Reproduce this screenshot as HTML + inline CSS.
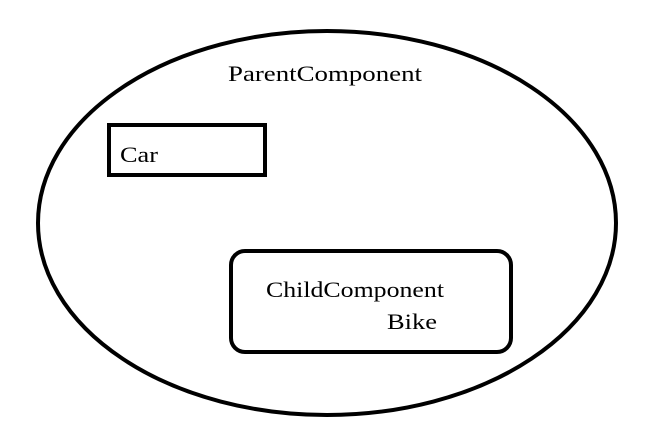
<!DOCTYPE html>
<html><head><style>
html,body{margin:0;padding:0;background:#fff;}
svg{display:block;}
text{font-family:"Liberation Serif","Noto Serif CJK SC",serif;font-size:22px;fill:#000;}
</style></head><body>
<svg width="656" height="447" viewBox="0 0 656 447">
<rect width="656" height="447" fill="#fff"/>
<ellipse cx="327" cy="223" rx="289" ry="192" fill="none" stroke="#000" stroke-width="4"/>
<rect x="109" y="125" width="156" height="50" fill="none" stroke="#000" stroke-width="4"/>
<rect x="231" y="251" width="280" height="101" rx="14" ry="14" fill="none" stroke="#000" stroke-width="4"/>
<text x="228" y="81" textLength="194" lengthAdjust="spacingAndGlyphs">ParentComponent</text>
<text x="120" y="162" textLength="38" lengthAdjust="spacingAndGlyphs">Car</text>
<text x="266" y="297" textLength="178" lengthAdjust="spacingAndGlyphs">ChildComponent</text>
<text x="387" y="329" textLength="50" lengthAdjust="spacingAndGlyphs">Bike</text>
</svg>
</body></html>
